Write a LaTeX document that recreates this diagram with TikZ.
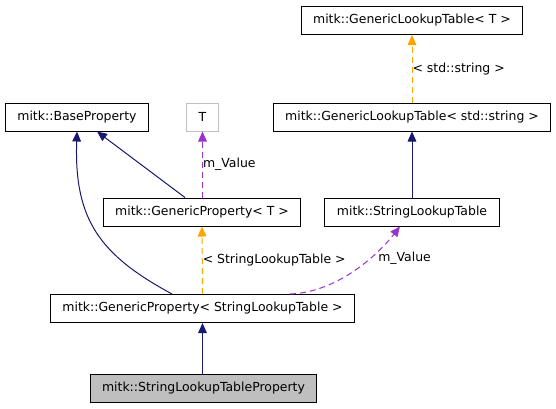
\documentclass[tikz,border=0pt]{standalone}
\usepackage{fontspec}
\setmainfont{DejaVu Sans}
\usepackage{xcolor}
\usepackage{tikz}
\usetikzlibrary{arrows.meta,calc}

\definecolor{inhblue}{HTML}{191970}
\definecolor{tmplorange}{HTML}{FFA500}
\definecolor{usepurple}{HTML}{9A32CD}
\definecolor{boxgray}{HTML}{BFBFBF}

\tikzset{
    cls/.style={draw, line width=0.75pt, minimum height=21pt, inner xsep=9pt, inner ysep=0pt,
        font=\fontsize{9.35}{11}\selectfont},
    inherit/.style={draw=inhblue, line width=0.75pt, -{Triangle[length=7.5pt,width=6.5pt]}},
    tmpl/.style={draw=tmplorange, line width=0.75pt, dash pattern=on 4.5pt off 3pt,
        -{Triangle[length=7.5pt,width=6.5pt]}},
    usage/.style={draw=usepurple, line width=0.75pt, dash pattern=on 4.5pt off 3pt,
        -{Triangle[length=7.5pt,width=6.5pt]}},
    lbl/.style={anchor=west, inner sep=0pt, font=\fontsize{9.35}{11}\selectfont}
}

\begin{document}
\begin{tikzpicture}[x=0.75pt, y=-0.75pt]
    \useasboundingbox (0,0) rectangle (556,408);

    % classes
    \node[cls] (gltt) at (412,20.5) {mitk::GenericLookupTable< T >};
    \node[cls] (bp) at (77,117) {mitk::BaseProperty};
    \node[cls, draw=boxgray] (t) at (202.5,117) {T};
    \node[cls] (glts) at (412,117) {mitk::GenericLookupTable< std::string >};
    \node[cls] (gpt) at (202,212) {mitk::GenericProperty< T >};
    \node[cls] (slt) at (412,212) {mitk::StringLookupTable};
    \node[cls] (gpslt) at (202.5,308.5) {mitk::GenericProperty< StringLookupTable >};
    \node[cls, fill=boxgray] (sltp) at (203.5,388) {mitk::StringLookupTableProperty};

    % inheritance
    \draw[inherit] (sltp.north -| gpslt.south) -- (gpslt.south);
    \draw[inherit] ($(gpslt.north)+(-30.5,0)$) .. controls (100,255) and (74,220) .. (bp.south);
    \draw[inherit] ($(gpt.north)+(-17,0)$) -- ($(bp.south)+(20,0)$);
    \draw[inherit] (slt.north) -- (glts.south);

    % templates
    \draw[tmpl] (gpslt.north) -- node[lbl] (tmplslt) {< StringLookupTable >} (gpt.south);
    \draw[tmpl] (glts.north) -- node[lbl] (tmplstr) {< std::string >} (gltt.south);

    % members
    \draw[usage] (gpt.north -| t.south) -- node[lbl] (mvalt) {m\_Value} (t.south);
    \draw[usage] ($(gpslt.north)+(87.5,0)$) .. controls (340,292) and (380,252) .. ($(slt.south)+(-12,0)$);
    \node[lbl] (mvalslt) at (378,258) {m\_Value};
\end{tikzpicture}
\end{document}
